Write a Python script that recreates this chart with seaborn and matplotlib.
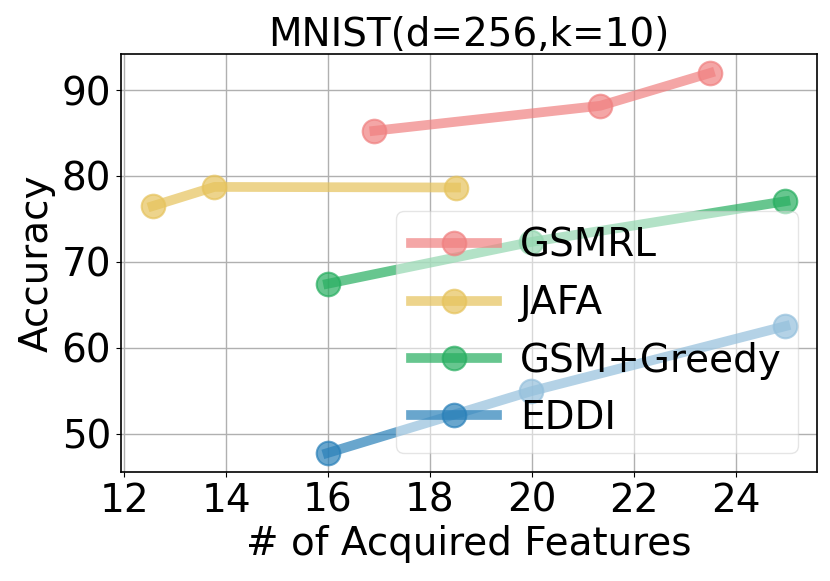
import matplotlib
matplotlib.use("Agg")
import matplotlib.pyplot as plt
import seaborn as sns
import pandas as pd

title = "MNIST(d=256,k=10)"
xlabel = "# of Acquired Features"
ylabel = "Accuracy"

series_names = ["GSMRL", "JAFA", "GSM+Greedy", "EDDI"]
gsmrl_x = [16.91, 21.34, 23.49]
gsmrl_y = [85.26, 88.17, 91.98]
jafa_x = [12.56, 13.77, 18.51]
jafa_y = [76.5, 78.73, 78.66]
greedy_x = [16.0, 19.98, 24.97]
greedy_y = [67.47, 72.32, 77.06]
eddi_x = [15.99, 19.98, 24.97]
eddi_y = [47.77, 54.95, 62.53]
colors = ["#F08080", "#E6C35C", "#27AE60", "#2980B9"]

xs = [gsmrl_x, jafa_x, greedy_x, eddi_x]
ys = [gsmrl_y, jafa_y, greedy_y, eddi_y]

fig = plt.figure(figsize=(8.3, 5.81), dpi=100)
ax = fig.add_axes([0.1458, 0.1876, 0.9843 - 0.1458, 0.907 - 0.1876])

for name, x, y, c in zip(series_names, xs, ys, colors):
    df = pd.DataFrame({"x": x, "y": y})
    sns.lineplot(data=df, x="x", y="y", ax=ax, color=c, label=name,
                 marker="o", markersize=17, linewidth=7, alpha=0.7,
                 markeredgecolor=c, markeredgewidth=1.5)

ax.grid(True, color="#b0b0b0", linewidth=1.0)
ax.set_axisbelow(True)
ax.set_title(title, fontsize=28)
ax.set_xlabel(xlabel, fontsize=28)
ax.set_ylabel(ylabel, fontsize=28)
ax.set_xticks([12, 14, 16, 18, 20, 22, 24])
ax.set_yticks([50, 60, 70, 80, 90])
ax.tick_params(labelsize=28)
for s in ax.spines.values():
    s.set_color("black")
    s.set_linewidth(1.2)
ax.legend(loc="lower right", fontsize=28, handlelength=2.2, handletextpad=0.6,
          framealpha=0.5)

fig.savefig("out.png", dpi=100)
